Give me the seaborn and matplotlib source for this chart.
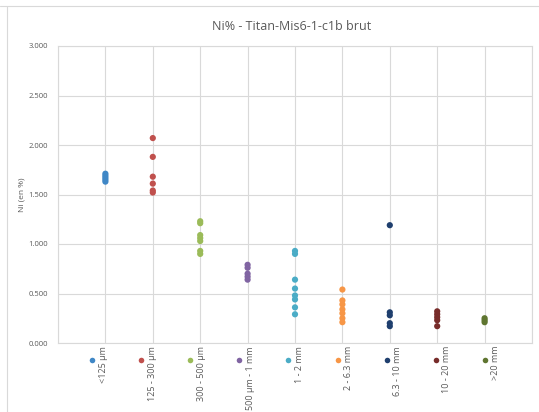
import pandas as pd
import matplotlib
matplotlib.use("Agg")
import matplotlib.pyplot as plt
import seaborn as sns
from matplotlib.lines import Line2D

# fractions granulométriques et teneurs en Ni (%)
fractions = ["<125 µm", "125 - 300 µm", "300 - 500 µm", "500 µm - 1 mm", "1 - 2 mm",
             "2 - 6.3 mm", "6.3 - 10 mm", "10 - 20 mm", ">20 mm"]
ni_125 = [1.63, 1.65, 1.67, 1.69, 1.71]
ni_125_300 = [2.07, 1.88, 1.68, 1.61, 1.54, 1.52]
ni_300_500 = [1.23, 1.21, 1.09, 1.06, 1.03, 0.93, 0.90]
ni_500_1 = [0.79, 0.76, 0.70, 0.67, 0.64]
ni_1_2 = [0.93, 0.90, 0.64, 0.55, 0.48, 0.44, 0.36, 0.29]
ni_2_63 = [0.54, 0.43, 0.39, 0.34, 0.30, 0.25, 0.21]
ni_63_10 = [1.19, 0.31, 0.28, 0.20, 0.17]
ni_10_20 = [0.32, 0.29, 0.26, 0.23, 0.17]
ni_20 = [0.25, 0.23, 0.21]
couleurs = ["#3F87C6", "#C0504D", "#9BBB59", "#8064A2", "#4BACC6",
            "#F79646", "#1F3F6E", "#772C2A", "#5F7530"]

series = [ni_125, ni_125_300, ni_300_500, ni_500_1, ni_1_2, ni_2_63, ni_63_10, ni_10_20, ni_20]
rows = []
for i, (nom, vals) in enumerate(zip(fractions, series)):
    for v in vals:
        rows.append({"pos": i + 1, "fraction": nom, "Ni": v})
df = pd.DataFrame(rows)

sns.set_style("white")
plt.rcParams["font.family"] = ["Open Sans", "DejaVu Sans"]
gris = "#595959"

fig = plt.figure(figsize=(5.39, 4.12), dpi=100)
ax = fig.add_axes([58 / 539, 69 / 412, 474 / 539, 297 / 412])

sns.scatterplot(data=df, x="pos", y="Ni", hue="fraction", palette=couleurs,
                hue_order=fractions, s=20, edgecolor="none", legend=False, ax=ax, zorder=3)

ax.set_xlim(0, 10)
ax.set_ylim(0, 3)
ax.set_xticks(range(0, 11))
ax.set_yticks([0, 0.5, 1, 1.5, 2, 2.5, 3])
ax.set_yticklabels(["0.000", "0.500", "1.000", "1.500", "2.000", "2.500", "3.000"])
ax.tick_params(axis="x", labelbottom=False, length=0)
ax.tick_params(axis="y", length=0, labelsize=5.5, labelcolor=gris, pad=7)
ax.grid(True, color="#d9d9d9", linewidth=0.8)
for sp in ax.spines.values():
    sp.set_color("#d9d9d9")
    sp.set_linewidth(0.8)
ax.set_xlabel("")
ax.set_ylabel("Ni (en %)", fontsize=6, color=gris, labelpad=2)

fig.text(292 / 539, 1 - 27 / 412, "Ni% - Titan-Mis6-1-c1b brut", ha="center", va="center",
         fontsize=9, color=gris)

# légende en bas, texte vertical
for i, (nom, c) in enumerate(zip(fractions, couleurs)):
    x = (92 + i * 49.1) / 539
    fig.add_artist(Line2D([x], [1 - 360 / 412], marker="o", markersize=4, color=c,
                          markeredgewidth=0, transform=fig.transFigure))
    fig.text(x + 11 / 539, 1 - 346 / 412, nom, rotation=90, ha="center", va="top",
             fontsize=6.5, color=gris)

# cadre du graphique
fig.add_artist(Line2D([0, 1], [1 - 6 / 412, 1 - 6 / 412], color="#d9d9d9", linewidth=0.8,
                      transform=fig.transFigure))
fig.add_artist(Line2D([7 / 539, 7 / 539], [0, 1 - 6 / 412], color="#d9d9d9", linewidth=0.8,
                      transform=fig.transFigure))

fig.savefig("out.png", dpi=100)
